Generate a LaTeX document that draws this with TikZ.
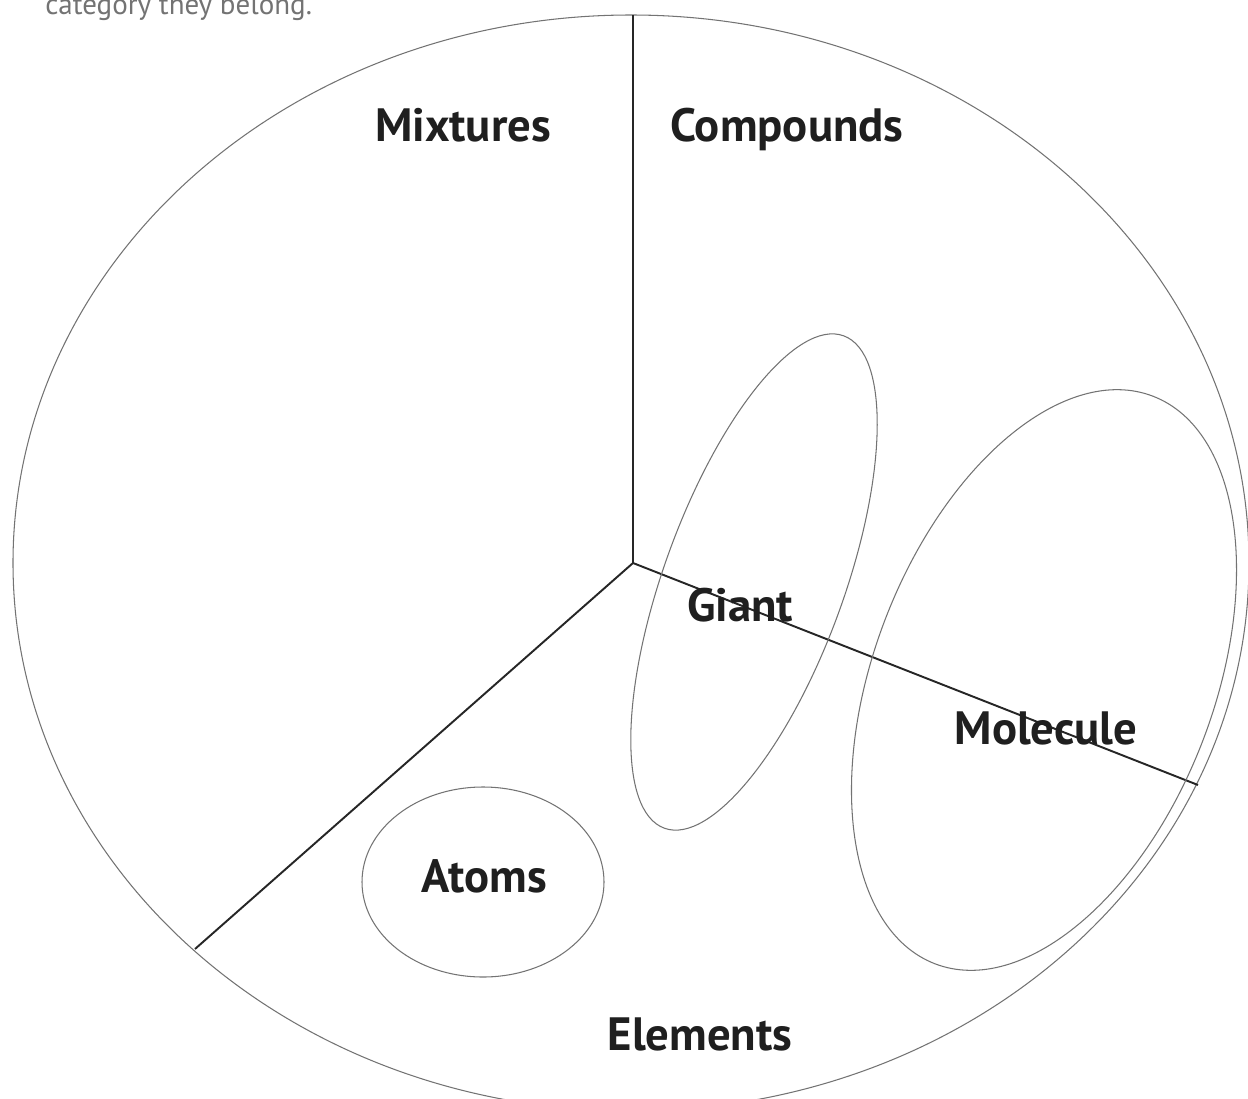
\documentclass[tikz,border=0pt]{standalone}
\usepackage{fontspec}
\setmainfont{PT Sans}

\begin{document}
\begin{tikzpicture}[
    x=0.02cm, y=-0.02cm,
    category/.style={anchor=base, inner sep=0pt, text=black!88, font=\fontsize{26.6}{31}\selectfont\bfseries},
    bigring/.style={draw=black!55, line width=0.6pt},
    subset/.style={draw=black!55, line width=0.6pt},
    divider/.style={draw=black!85, line width=1.1pt}
]
\useasboundingbox (0,0) rectangle (1248,1099);

% Consigne (coupée en haut)
\node[anchor=base west, inner sep=0pt, text=black!55, font=\fontsize{16.5}{19}\selectfont] (hint) at (45,14) {category they belong.};

% Ellipse principale
\draw[bigring] (631,563) ellipse [x radius=618, y radius=548];

% Séparations
\coordinate (hub) at (633,563);
\coordinate (topend) at (633,15);
\coordinate (leftend) at (195,949);
\coordinate (rightend) at (1198,785);
\draw[divider] (hub) -- (topend);
\draw[divider] (hub) -- (leftend);
\draw[divider] (hub) -- (rightend);

% Sous-ensembles
\draw[subset] (483,882) ellipse [x radius=121, y radius=95];
\draw[subset, rotate around={70:(754,582)}] (754,582) ellipse [x radius=262, y radius=90];
\draw[subset, rotate around={69:(1044,680)}] (1044,680) ellipse [x radius=304, y radius=170];

% Étiquettes
\node[category] (mixtures) at (463,141) {Mixtures};
\node[category] (compounds) at (787,141) {Compounds};
\node[category] (giant) at (740,621) {Giant};
\node[category] (molecule) at (1046,744) {Molecule};
\node[category] (atoms) at (484,892) {Atoms};
\node[category] (elements) at (700,1050) {Elements};

\end{tikzpicture}
\end{document}
